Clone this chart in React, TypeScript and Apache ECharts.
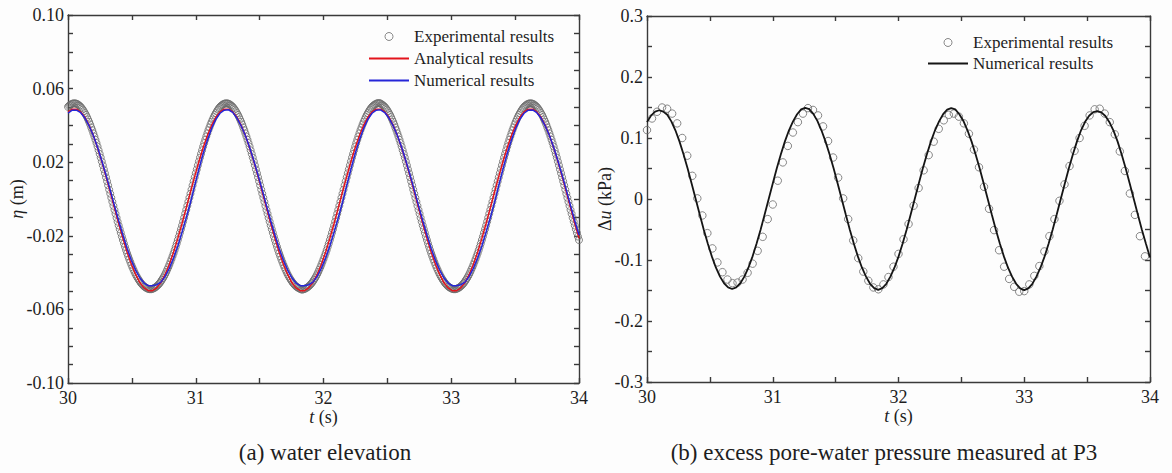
import React, { useEffect, useRef } from "react";
import * as echarts from "echarts";

// ---------- axes ----------
const T_MIN = 30;
const T_MAX = 34;
const X_TICK_VALUES = [30, 31, 32, 33, 34];
const X_TICK_TEXT = ["30", "31", "32", "33", "34"];
const LEFT_Y_TICK_VALUES = [-0.1, -0.06, -0.02, 0.02, 0.06, 0.1];
const LEFT_Y_TICK_TEXT = ["-0.10", "-0.06", "-0.02", "0.02", "0.06", "0.10"];
const RIGHT_Y_TICK_VALUES = [-0.3, -0.2, -0.1, 0, 0.1, 0.2, 0.3];
const RIGHT_Y_TICK_TEXT = ["-0.3", "-0.2", "-0.1", "0", "0.1", "0.2", "0.3"];

// ---------- (a) water elevation, eta (m), samples evenly spread over 30..34 s ----------
const expElevation = [
  .0501,.0507,.0511,.0515,.0518,.0519,
  .0520,.0519,.0518,.0515,.0511,.0507,.0501,.0494,.0486,.0477,.0467,.0457,.0445,.0432,.0419,.0405,.0389,.0374,.0357,.0340,
  .0322,.0304,.0285,.0265,.0245,.0225,.0204,.0183,.0161,.0140,.0118,.0096,.0074,.0051,.0029,.0007,-.0015,-.0037,-.0059,-.0080,
  -.0102,-.0123,-.0144,-.0164,-.0184,-.0204,-.0223,-.0242,-.0260,-.0278,-.0295,-.0311,-.0327,-.0342,-.0357,-.0371,-.0384,-.0397,-.0409,-.0420,
  -.0430,-.0439,-.0448,-.0456,-.0463,-.0469,-.0475,-.0479,-.0483,-.0486,-.0488,-.0490,-.0490,
  -.0490,-.0488,-.0486,-.0483,-.0479,-.0475,-.0469,-.0463,-.0456,-.0448,-.0439,-.0430,-.0420,-.0409,-.0397,-.0384,-.0371,-.0357,-.0342,-.0327,
  -.0311,-.0295,-.0278,-.0260,-.0242,-.0223,-.0204,-.0184,-.0164,-.0144,-.0123,-.0102,-.0080,-.0059,-.0037,-.0015,.0007,.0029,.0051,.0074,
  .0096,.0118,.0140,.0161,.0183,.0204,.0225,.0245,.0265,.0285,.0304,.0322,.0340,.0357,.0374,.0389,.0405,.0419,.0432,.0445,
  .0457,.0467,.0477,.0486,.0494,.0501,.0507,.0511,.0515,.0518,.0519,
  .0520,.0519,.0518,.0515,.0511,.0507,.0501,.0494,.0486,.0477,.0467,.0457,.0445,.0432,.0419,.0405,.0389,.0374,.0357,.0340,
  .0322,.0304,.0285,.0265,.0245,.0225,.0204,.0183,.0161,.0140,.0118,.0096,.0074,.0051,.0029,.0007,-.0015,-.0037,-.0059,-.0080,
  -.0102,-.0123,-.0144,-.0164,-.0184,-.0204,-.0223,-.0242,-.0260,-.0278,-.0295,-.0311,-.0327,-.0342,-.0357,-.0371,-.0384,-.0397,-.0409,-.0420,
  -.0430,-.0439,-.0448,-.0456,-.0463,-.0469,-.0475,-.0479,-.0483,-.0486,-.0489,-.0492,-.0492,
  -.0491,-.0489,-.0486,-.0483,-.0479,-.0475,-.0469,-.0463,-.0456,-.0448,-.0439,-.0430,-.0420,-.0409,-.0397,-.0384,-.0371,-.0357,-.0342,-.0327,
  -.0311,-.0295,-.0278,-.0260,-.0242,-.0223,-.0204,-.0184,-.0164,-.0144,-.0123,-.0102,-.0080,-.0059,-.0037,-.0015,.0007,.0029,.0051,.0074,
  .0096,.0118,.0140,.0161,.0183,.0204,.0225,.0245,.0265,.0285,.0304,.0322,.0340,.0357,.0374,.0389,.0405,.0419,.0432,.0445,
  .0457,.0467,.0477,.0486,.0494,.0501,.0507,.0511,.0515,.0518,.0520,
  .0521,.0521,.0519,.0515,.0511,.0507,.0501,.0494,.0486,.0477,.0467,.0457,.0445,.0432,.0419,.0405,.0389,.0374,.0357,.0340,
  .0322,.0304,.0285,.0265,.0245,.0225,.0204,.0183,.0161,.0140,.0118,.0096,.0074,.0051,.0029,.0007,-.0015,-.0037,-.0059,-.0080,
  -.0102,-.0123,-.0144,-.0164,-.0184,-.0204,-.0223,-.0242,-.0260,-.0278,-.0295,-.0311,-.0327,-.0342,-.0357,-.0371,-.0384,-.0397,-.0409,-.0420,
  -.0430,-.0439,-.0448,-.0456,-.0463,-.0469,-.0475,-.0479,-.0483,-.0486,-.0488,-.0490,-.0490,
  -.0490,-.0488,-.0486,-.0483,-.0479,-.0475,-.0469,-.0463,-.0456,-.0448,-.0439,-.0430,-.0420,-.0409,-.0397,-.0384,-.0371,-.0357,-.0342,-.0327,
  -.0311,-.0295,-.0278,-.0260,-.0242,-.0223,-.0204,-.0184,-.0164,-.0144,-.0123,-.0102,-.0080,-.0059,-.0037,-.0015,.0007,.0029,.0051,.0074,
  .0096,.0118,.0140,.0161,.0183,.0204,.0225,.0245,.0265,.0285,.0304,.0322,.0340,.0357,.0374,.0389,.0405,.0419,.0432,.0445,
  .0457,.0467,.0477,.0486,.0494,.0501,.0507,.0511,.0515,.0518,.0519,
  .0520,.0519,.0518,.0515,.0511,.0507,.0501,.0494,.0486,.0477,.0467,.0457,.0445,.0432,.0419,.0405,.0389,.0374,.0357,.0340,
  .0322,.0304,.0285,.0265,.0245,.0225,.0204,.0183,.0161,.0140,.0118,.0096,.0074,.0051,.0029,.0007,-.0015,-.0037,-.0059,-.0080,
  -.0102,-.0123,-.0144,-.0164,-.0184,-.0204,-.0223,
];

const analyticalElevation = [
  .0473,.0488,
  .0488,.0473,.0444,.0400,.0345,.0279,.0204,.0123,.0038,-.0048,-.0133,-.0214,-.0289,-.0355,-.0410,-.0454,-.0483,-.0498,
  -.0498,-.0483,-.0454,-.0410,-.0355,-.0289,-.0214,-.0133,-.0048,.0038,.0123,.0204,.0279,.0345,.0400,.0444,.0473,.0488,
  .0488,.0473,.0444,.0400,.0345,.0279,.0204,.0123,.0038,-.0048,-.0133,-.0214,-.0289,-.0355,-.0410,-.0454,-.0483,-.0498,
  -.0498,-.0483,-.0454,-.0410,-.0355,-.0289,-.0214,-.0133,-.0048,.0038,.0123,.0204,.0279,.0345,.0400,.0444,.0473,.0488,
  .0488,.0473,.0444,.0400,.0345,.0279,.0204,.0123,.0038,-.0048,-.0133,-.0214,-.0289,-.0355,-.0410,-.0454,-.0483,-.0498,
  -.0498,-.0483,-.0454,-.0410,-.0355,-.0289,-.0214,-.0133,-.0048,.0038,.0123,.0204,.0279,.0345,.0400,.0444,.0473,.0488,
  .0488,.0473,.0444,.0400,.0345,.0279,.0204,.0123,.0038,-.0048,-.0133,-.0214,
];

const numericalElevation = [
  .0466,.0483,
  .0483,.0469,.0440,.0398,.0345,.0281,.0208,.0130,.0048,-.0036,-.0118,-.0196,-.0269,-.0333,-.0386,-.0428,-.0457,-.0471,
  -.0472,-.0466,-.0452,-.0421,-.0377,-.0321,-.0255,-.0181,-.0102,-.0019,.0073,.0162,.0246,.0320,.0383,.0433,.0466,.0483,
  .0485,.0471,.0440,.0398,.0345,.0281,.0208,.0130,.0048,-.0036,-.0118,-.0196,-.0269,-.0333,-.0386,-.0428,-.0457,-.0471,
  -.0472,-.0466,-.0452,-.0421,-.0377,-.0321,-.0255,-.0181,-.0102,-.0019,.0073,.0162,.0246,.0320,.0383,.0433,.0466,.0483,
  .0485,.0470,.0440,.0398,.0345,.0281,.0208,.0130,.0048,-.0036,-.0118,-.0196,-.0269,-.0333,-.0386,-.0428,-.0457,-.0471,
  -.0472,-.0466,-.0452,-.0421,-.0377,-.0321,-.0255,-.0181,-.0102,-.0019,.0073,.0162,.0246,.0320,.0383,.0433,.0466,.0483,
  .0484,.0469,.0440,.0398,.0345,.0281,.0208,.0130,.0048,-.0036,-.0118,-.0196,
];

// ---------- (b) excess pore-water pressure at P3, du (kPa) ----------
const EXP_PRESSURE_DT = 0.04;
const expPressure = [
  .113,.132,.143,.150,.148,.140,.124,.100,.071,.038,
  .001,-.027,-.056,-.081,-.104,-.120,-.132,-.138,-.137,-.132,
  -.121,-.106,-.085,-.062,-.033,-.009,.030,.060,.087,.109,
  .126,.140,.149,.146,.137,.119,.095,.068,.035,.001,
  -.033,-.068,-.097,-.119,-.134,-.145,-.148,-.140,-.128,-.111,
  -.090,-.066,-.041,-.011,.018,.047,.072,.094,.115,.129,
  .138,.140,.135,.124,.107,.081,.052,.020,-.016,-.051,
  -.084,-.111,-.131,-.144,-.152,-.151,-.140,-.126,-.110,-.086,
  -.061,-.033,-.003,.024,.054,.079,.100,.120,.137,.147,
  .148,.140,.126,.106,.078,.046,.009,-.026,-.061,-.094,
];

const numericalPressure = [
  .1260,.1367,.1433,
  .1455,.1433,.1381,.1273,.1126,.0945,.0735,.0503,.0255,.0000,-.0255,-.0503,-.0735,-.0945,-.1126,-.1273,-.1381,-.1448,
  -.1475,-.1448,-.1381,-.1273,-.1126,-.0945,-.0735,-.0503,-.0255,.0000,.0255,.0503,.0735,.0945,.1126,.1273,.1390,.1468,
  .1495,.1473,.1395,.1280,.1126,.0945,.0735,.0503,.0255,.0000,-.0255,-.0503,-.0735,-.0945,-.1126,-.1273,-.1390,-.1460,
  -.1490,-.1460,-.1390,-.1273,-.1126,-.0945,-.0735,-.0503,-.0255,.0000,.0255,.0503,.0735,.0945,.1126,.1273,.1390,.1465,
  .1490,.1468,.1390,.1280,.1126,.0945,.0735,.0503,.0255,.0000,-.0255,-.0503,-.0735,-.0945,-.1126,-.1273,-.1390,-.1465,
  -.1495,-.1465,-.1390,-.1273,-.1126,-.0945,-.0735,-.0503,-.0255,.0000,.0255,.0503,.0735,.0945,.1126,.1265,.1365,.1425,
  .1440,.1420,.1360,.1260,.1120,.0945,.0735,.0503,.0255,.0000,-.0255,-.0503,-.0735,-.0960,
];

const evenPairs = (vals: number[]) => {
  const dt = (T_MAX - T_MIN) / (vals.length - 1);
  return vals.map((v, i) => [T_MIN + i * dt, v]);
};
const stepPairs = (vals: number[], dt: number) => vals.map((v, i) => [T_MIN + i * dt, v]);

const pickLabel = (ticks: number[], texts: string[]) => (v: number) => {
  const i = ticks.findIndex((t) => Math.abs(t - v) < 1e-6);
  return i >= 0 ? texts[i] : "";
};

const FONT = "Liberation Serif";
const INK = "#1e1e1e";
const AXIS = { color: "#3a3a3a", width: 1.4 };
const labelStyle = { fontFamily: FONT, fontSize: 18, color: INK };

function xAxes(grid: number) {
  return [
    {
      gridIndex: grid, type: "value", min: T_MIN, max: T_MAX, interval: 0.5, position: "bottom",
      axisLine: { show: true, onZero: false, lineStyle: AXIS },
      axisTick: { show: true, inside: true, length: 5, lineStyle: AXIS },
      axisLabel: { ...labelStyle, margin: 6, formatter: pickLabel(X_TICK_VALUES, X_TICK_TEXT) },
      splitLine: { show: false },
      name: "{i|t} (s)", nameLocation: "middle", nameGap: 25, nameMoveOverlap: false,
      nameTextStyle: { ...labelStyle, rich: { i: { ...labelStyle, fontStyle: "italic" } } },
    },
    {
      gridIndex: grid, type: "value", min: T_MIN, max: T_MAX, interval: 0.5, position: "top",
      axisLine: { show: true, onZero: false, lineStyle: AXIS },
      axisTick: { show: true, inside: true, length: 5, lineStyle: AXIS },
      axisLabel: { show: false }, splitLine: { show: false },
    },
  ];
}

function yAxes(grid: number, min: number, max: number, interval: number, fmt: (v: number) => string, name: string, gap: number) {
  return [
    {
      gridIndex: grid, type: "value", min, max, interval, position: "left",
      axisLine: { show: true, onZero: false, lineStyle: AXIS },
      axisTick: { show: true, inside: true, length: 5, lineStyle: AXIS },
      axisLabel: { ...labelStyle, margin: 4, formatter: fmt },
      splitLine: { show: false },
      name, nameLocation: "middle", nameGap: gap, nameMoveOverlap: false,
      nameTextStyle: { ...labelStyle, rich: { i: { ...labelStyle, fontStyle: "italic" } } },
    },
    {
      gridIndex: grid, type: "value", min, max, interval, position: "right",
      axisLine: { show: true, onZero: false, lineStyle: AXIS },
      axisTick: { show: true, inside: true, length: 5, lineStyle: AXIS },
      axisLabel: { show: false }, splitLine: { show: false },
    },
  ];
}

const hollow = { color: "rgba(0,0,0,0)", borderColor: "#6a6a6a", borderWidth: 1 };
const noDot = { color: "rgba(0,0,0,0)", borderWidth: 0, opacity: 0 };
const legendText = { fontFamily: FONT, fontSize: 17, color: INK };

export default function App() {
  const ref = useRef<HTMLDivElement>(null);
  useEffect(() => {
    if (!ref.current) return;
    const chart = echarts.init(ref.current, undefined, { renderer: "svg" });
    chart.setOption({
      animation: false,
      backgroundColor: "#fdfdfd",
      textStyle: { fontFamily: FONT },
      grid: [
        { left: 68, top: 15, width: 511, height: 368 },
        { left: 647, top: 16, width: 503, height: 366 },
      ],
      xAxis: [...xAxes(0), ...xAxes(1)],
      yAxis: [
        ...yAxes(0, -0.1, 0.1, 0.01, pickLabel(LEFT_Y_TICK_VALUES, LEFT_Y_TICK_TEXT), "{i|η} (m)", 42),
        ...yAxes(1, -0.3, 0.3, 0.05, pickLabel(RIGHT_Y_TICK_VALUES, RIGHT_Y_TICK_TEXT), "Δ{i|u} (kPa)", 33),
      ],
      legend: [
        {
          left: 363, top: 23, orient: "vertical", itemWidth: 40, itemHeight: 8, itemGap: 5, selectedMode: false,
          textStyle: legendText,
          data: [
            { name: "Experimental results", icon: "circle", itemStyle: hollow },
            { name: "Analytical results", itemStyle: noDot },
            { name: "Numerical results", itemStyle: noDot },
          ],
        },
        {
          left: 922, top: 29, orient: "vertical", itemWidth: 40, itemHeight: 8, itemGap: 4, selectedMode: false,
          textStyle: legendText,
          formatter: (n: string) => n.replace(" (b)", ""),
          data: [
            { name: "Experimental results (b)", icon: "circle", itemStyle: hollow },
            { name: "Numerical results (b)", itemStyle: noDot },
          ],
        },
      ],
      series: [
        {
          type: "scatter", name: "Experimental results", xAxisIndex: 0, yAxisIndex: 0,
          data: evenPairs(expElevation), symbol: "circle", symbolSize: 7, itemStyle: hollow, z: 2, silent: true,
        },
        {
          type: "line", name: "Analytical results", xAxisIndex: 0, yAxisIndex: 0,
          data: evenPairs(analyticalElevation), symbol: "none", z: 3, silent: true,
          lineStyle: { color: "#e3141c", width: 1.5 }, itemStyle: { color: "#e3141c" },
        },
        {
          type: "line", name: "Numerical results", xAxisIndex: 0, yAxisIndex: 0,
          data: evenPairs(numericalElevation), symbol: "none", z: 4, silent: true,
          lineStyle: { color: "#2626d8", width: 1.5 }, itemStyle: { color: "#2626d8" },
        },
        {
          type: "scatter", name: "Experimental results (b)", xAxisIndex: 2, yAxisIndex: 2,
          data: stepPairs(expPressure, EXP_PRESSURE_DT), symbol: "circle", symbolSize: 7.5, itemStyle: hollow, z: 2, silent: true,
        },
        {
          type: "line", name: "Numerical results (b)", xAxisIndex: 2, yAxisIndex: 2,
          data: evenPairs(numericalPressure), symbol: "none", z: 3, silent: true,
          lineStyle: { color: "#151515", width: 1.8 }, itemStyle: { color: "#151515" },
        },
      ],
      graphic: [
        {
          type: "text", x: 325, y: 452, silent: true,
          style: { text: "(a) water elevation", fill: INK, font: `23px "${FONT}"`, textAlign: "center", textVerticalAlign: "middle", align: "center", verticalAlign: "middle" },
        },
        {
          type: "text", x: 884, y: 452, silent: true,
          style: { text: "(b) excess pore-water pressure measured at P3", fill: INK, font: `23px "${FONT}"`, textAlign: "center", textVerticalAlign: "middle", align: "center", verticalAlign: "middle" },
        },
      ],
    });
    return () => chart.dispose();
  }, []);
  return <div ref={ref} style={{ position: "fixed", left: 0, top: 0, width: 1172, height: 473 }} />;
}
